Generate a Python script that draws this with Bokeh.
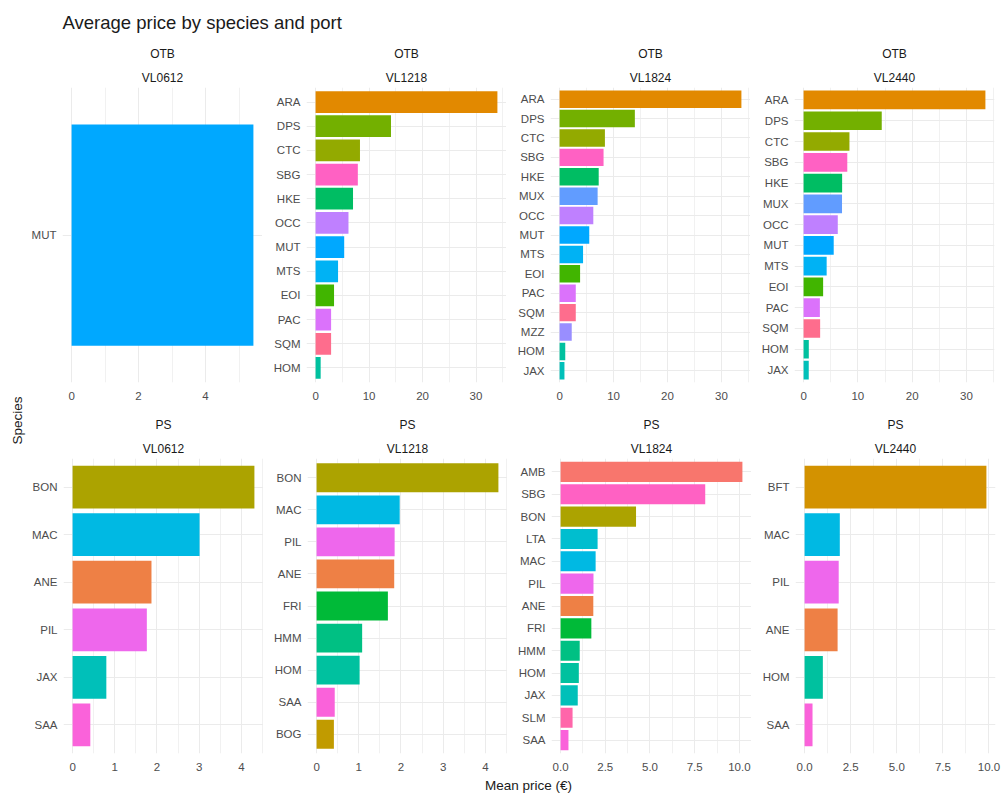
import math
from bokeh.plotting import figure
from bokeh.models import (FactorRange, Range1d, FixedTicker, Title, Label,
                          NumeralTickFormatter, ColumnDataSource)
from bokeh.layouts import row, column
from bokeh.embed import file_html
from bokeh.resources import INLINE

# ---------------- data ----------------
chart_title = "Average price by species and port"
x_title = "Mean price (€)"
y_title = "Species"

gears = ["OTB", "OTB", "OTB", "OTB", "PS", "PS", "PS", "PS"]
ports = ["VL0612", "VL1218", "VL1824", "VL2440", "VL0612", "VL1218", "VL1824", "VL2440"]

otb_vl0612_species = ["MUT"]
otb_vl0612_price = [5.43]

otb_vl1218_species = ["ARA", "DPS", "CTC", "SBG", "HKE", "OCC", "MUT", "MTS", "EOI", "PAC", "SQM", "HOM"]
otb_vl1218_price = [34.0, 14.1, 8.3, 7.9, 7.0, 6.15, 5.35, 4.2, 3.45, 2.9, 2.9, 0.95]

otb_vl1824_species = ["ARA", "DPS", "CTC", "SBG", "HKE", "MUX", "OCC", "MUT", "MTS", "EOI", "PAC", "SQM", "MZZ", "HOM", "JAX"]
otb_vl1824_price = [33.7, 13.95, 8.4, 8.15, 7.25, 7.05, 6.25, 5.5, 4.35, 3.8, 3.0, 3.0, 2.25, 1.05, 0.9]

otb_vl2440_species = ["ARA", "DPS", "CTC", "SBG", "HKE", "MUX", "OCC", "MUT", "MTS", "EOI", "PAC", "SQM", "HOM", "JAX"]
otb_vl2440_price = [33.5, 14.4, 8.45, 8.05, 7.1, 7.08, 6.3, 5.55, 4.25, 3.6, 3.0, 3.05, 0.96, 0.95]

ps_vl0612_species = ["BON", "MAC", "ANE", "PIL", "JAX", "SAA"]
ps_vl0612_price = [4.31, 3.01, 1.87, 1.76, 0.80, 0.42]

ps_vl1218_species = ["BON", "MAC", "PIL", "ANE", "FRI", "HMM", "HOM", "SAA", "BOG"]
ps_vl1218_price = [4.31, 1.97, 1.85, 1.84, 1.69, 1.08, 1.02, 0.43, 0.41]

ps_vl1824_species = ["AMB", "SBG", "BON", "LTA", "MAC", "PIL", "ANE", "FRI", "HMM", "HOM", "JAX", "SLM", "SAA"]
ps_vl1824_price = [10.17, 8.09, 4.22, 2.07, 1.96, 1.84, 1.83, 1.72, 1.07, 1.02, 0.96, 0.67, 0.44]

ps_vl2440_species = ["BFT", "MAC", "PIL", "ANE", "HOM", "SAA"]
ps_vl2440_price = [9.86, 1.91, 1.85, 1.79, 0.99, 0.43]

panel_species = [otb_vl0612_species, otb_vl1218_species, otb_vl1824_species, otb_vl2440_species,
                 ps_vl0612_species, ps_vl1218_species, ps_vl1824_species, ps_vl2440_species]
panel_prices = [otb_vl0612_price, otb_vl1218_price, otb_vl1824_price, otb_vl2440_price,
                ps_vl0612_price, ps_vl1218_price, ps_vl1824_price, ps_vl2440_price]

# x-axis ticks per panel (major, minor, label format)
panel_major = [[0, 2, 4], [0, 10, 20, 30], [0, 10, 20, 30], [0, 10, 20, 30],
               [0, 1, 2, 3, 4], [0, 1, 2, 3, 4], [0, 2.5, 5, 7.5, 10], [0, 2.5, 5, 7.5, 10]]
panel_minor = [[1, 3, 5], [5, 15, 25, 35], [5, 15, 25, 35], [5, 15, 25, 35],
               [0.5, 1.5, 2.5, 3.5, 4.5], [0.5, 1.5, 2.5, 3.5, 4.5],
               [1.25, 3.75, 6.25, 8.75], [1.25, 3.75, 6.25, 8.75]]
panel_fmt = ["0", "0", "0", "0", "0", "0", "0.0", "0.0"]


# ---------------- ggplot-like hue palette ----------------
def hcl_hex(h, c=100.0, l=65.0):
    hr = math.radians(h)
    u = c * math.cos(hr)
    v = c * math.sin(hr)
    Xn, Yn, Zn = 95.047, 100.0, 108.883
    Y = Yn * ((l + 16) / 116) ** 3
    den = Xn + 15 * Yn + 3 * Zn
    un, vn = 4 * Xn / den, 9 * Yn / den
    up = u / (13 * l) + un
    vp = v / (13 * l) + vn
    X = Y * 9 * up / (4 * vp)
    Z = Y * (12 - 3 * up - 20 * vp) / (4 * vp)
    X, Y, Z = X / 100, Y / 100, Z / 100
    r = 3.240479 * X - 1.537150 * Y - 0.498535 * Z
    g = -0.969256 * X + 1.875992 * Y + 0.041556 * Z
    b = 0.055648 * X - 0.204043 * Y + 1.057311 * Z

    def gam(t):
        t = max(0.0, min(1.0, t))
        t = t * 12.92 if t <= 0.0031308 else 1.055 * t ** (1 / 2.4) - 0.055
        return int(round(255 * t))
    return "#%02X%02X%02X" % (gam(r), gam(g), gam(b))


all_species = sorted(set(s for lst in panel_species for s in lst))
n_sp = len(all_species)
palette = {s: hcl_hex(15 + 360.0 * i / n_sp) for i, s in enumerate(all_species)}

FONT = "Liberation Sans"
FRAME_W, FRAME_H = 200, 295
GRID = "#EBEBEB"
TOP_H = 36
LEFT_W = 28


def make_panel(i, left_border, right_border, top_border):
    species = panel_species[i]
    price = panel_prices[i]
    vmax = max(price)
    factors = list(reversed(species))
    p = figure(y_range=FactorRange(factors=factors, range_padding=0.1,
                                   range_padding_units="absolute"),
               x_range=Range1d(-0.05 * vmax, 1.05 * vmax),
               frame_width=FRAME_W, frame_height=FRAME_H,
               min_border_left=left_border, min_border_right=right_border,
               min_border_top=top_border, min_border_bottom=22,
               toolbar_location=None, output_backend="svg", title=None)
    src = ColumnDataSource(dict(sp=species, price=price,
                                color=[palette[s] for s in species]))
    p.hbar(y="sp", left=0, right="price", height=0.9, fill_color="color",
           line_color=None, source=src)
    p.outline_line_color = None
    p.background_fill_color = "white"
    p.border_fill_color = "white"

    p.xaxis.ticker = FixedTicker(ticks=panel_major[i], minor_ticks=panel_minor[i])
    p.xaxis.formatter = NumeralTickFormatter(format=panel_fmt[i])
    for ax in (p.xaxis, p.yaxis):
        ax.axis_line_color = None
        ax.major_tick_line_color = None
        ax.minor_tick_line_color = None
        ax.major_tick_out = 0
        ax.major_tick_in = 0
        ax.minor_tick_out = 0
        ax.minor_tick_in = 0
        ax.major_label_text_font = FONT
        ax.major_label_text_font_size = "11.5px"
        ax.major_label_text_color = "#4D4D4D"
    p.xaxis.major_label_standoff = 9
    p.yaxis.major_label_standoff = 6

    p.xgrid.grid_line_color = GRID
    p.xgrid.grid_line_width = 1
    p.xgrid.minor_grid_line_color = GRID
    p.xgrid.minor_grid_line_width = 0.7
    p.ygrid.grid_line_color = GRID
    p.ygrid.grid_line_width = 1

    p.add_layout(Title(text=ports[i], align="center", text_font=FONT,
                       text_font_size="12px", text_font_style="normal",
                       text_color="#1A1A1A", standoff=6), "above")
    p.add_layout(Title(text=gears[i], align="center", text_font=FONT,
                       text_font_size="12px", text_font_style="normal",
                       text_color="#1A1A1A", standoff=9), "above")
    return p


def blank_fig(w, h):
    f = figure(width=w, height=h, x_range=Range1d(0, w), y_range=Range1d(h, 0),
               min_border=0, toolbar_location=None, output_backend="svg", title=None)
    f.xaxis.visible = False
    f.yaxis.visible = False
    f.grid.visible = False
    f.outline_line_color = None
    return f


lefts = [32, 44, 44, 44]
rights = [0, 0, 0, 10]
row1 = [make_panel(k, lefts[k], rights[k], 87 - TOP_H) for k in range(4)]
row2 = [make_panel(k + 4, lefts[k], rights[k], 54) for k in range(4)]

# top strip with the chart title
top_fig = blank_fig(1002, TOP_H)
top_fig.add_layout(Label(x=62, y=22, text=chart_title, text_align="left",
                         text_baseline="middle", text_font=FONT,
                         text_font_size="18.5px", text_color="#1A1A1A"))

# left strip with the y-axis title
left_fig = blank_fig(LEFT_W, 775 - TOP_H)
left_fig.add_layout(Label(x=17, y=420 - TOP_H, text=y_title, angle=math.pi / 2,
                          text_align="center", text_baseline="middle",
                          text_font=FONT, text_font_size="13.5px", text_color="#1A1A1A"))

# bottom strip with the x-axis title
bottom_fig = blank_fig(1002, 21)
bottom_fig.add_layout(Label(x=528, y=10, text=x_title, text_align="center",
                            text_baseline="middle", text_font=FONT,
                            text_font_size="13.5px", text_color="#1A1A1A"))

grid = column(row(*row1), row(*row2))
layout = column(top_fig, row(left_fig, grid), bottom_fig)

open("out.html", "w").write(file_html(layout, INLINE))
